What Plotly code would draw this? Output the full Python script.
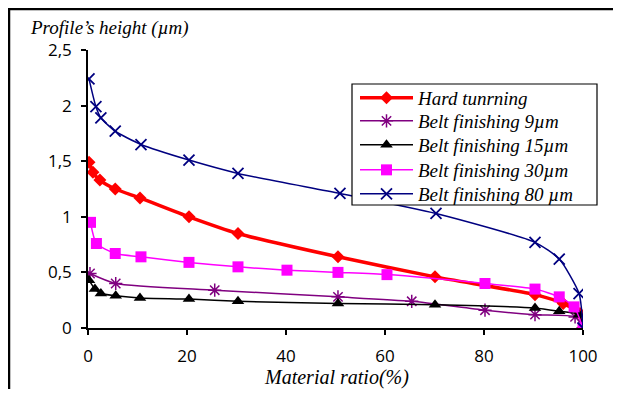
import plotly.graph_objects as go

# ---- data ----
ht_x = [0.2, 1.0, 2.4, 5.5, 10.5, 20.4, 30.3, 50.5, 70.1, 90.3, 96.0, 99.4, 100]
ht_y = [1.49, 1.40, 1.33, 1.25, 1.17, 1.00, 0.85, 0.64, 0.46, 0.30, 0.22, 0.13, 0.0]

b9_x = [0.4, 5.6, 25.6, 50.5, 65.4, 80.2, 90.3, 98.4, 100]
b9_y = [0.49, 0.40, 0.34, 0.28, 0.24, 0.16, 0.12, 0.10, 0.0]

b15_x = [0.2, 1.4, 2.6, 5.6, 10.5, 20.4, 30.3, 50.5, 70.1, 90.3, 95.2, 99.2, 100]
b15_y = [0.43, 0.35, 0.31, 0.29, 0.27, 0.26, 0.24, 0.22, 0.21, 0.18, 0.15, 0.12, 0.0]

b30_x = [0.5, 1.7, 5.5, 10.7, 20.4, 30.3, 40.2, 50.5, 60.4, 80.2, 90.3, 95.2, 98.2, 100]
b30_y = [0.95, 0.76, 0.67, 0.64, 0.59, 0.55, 0.52, 0.50, 0.48, 0.40, 0.35, 0.28, 0.19, 0.0]

b80_x = [0.2, 1.6, 2.6, 5.5, 10.7, 20.4, 30.3, 50.9, 70.3, 90.3, 95.2, 99.2, 100]
b80_y = [2.24, 1.99, 1.89, 1.77, 1.65, 1.51, 1.39, 1.21, 1.03, 0.77, 0.62, 0.31, 0.0]

names = ["Hard tunrning", "Belt finishing 9µm", "Belt finishing 15µm",
         "Belt finishing 30µm", "Belt finishing 80 µm"]

y_tickvals = [0, 0.5, 1, 1.5, 2, 2.5]
y_ticktext = ["0", "0,5", "1", "1,5", "2", "2,5"]
x_tickvals = [0, 20, 40, 60, 80, 100]

serif = "Liberation Serif"
sans = "Open Sans"

# page body has an 8px margin: figure origin sits at (8, 8) in the window
OFF = 8
L, T, PW, PH = 88 - OFF, 50 - OFF, 495, 278
W, H = 621 - 2 * OFF, 397 - 2 * OFF

def px(xp):
    return (xp - OFF - L) / PW

def py(yp):
    return (T + PH - (yp - OFF)) / PH

fig = go.Figure()

legend_rows = [98, 121, 145, 170, 194]
legend_ids = ["legend", "legend2", "legend3", "legend4", "legend5"]

def add(i, xs, ys, color, width, symbol, size, mline=0):
    fig.add_trace(go.Scatter(
        x=xs, y=ys, name=names[i], mode="lines+markers", legend=legend_ids[i],
        line=dict(color=color, width=width, shape="spline", smoothing=0.6),
        marker=dict(symbol=symbol, size=size, color=color,
                    line=dict(color=color, width=mline)),
    ))

add(0, ht_x, ht_y, "#FF0000", 3.5, "diamond", 10)
add(1, b9_x, b9_y, "#800080", 1.5, "asterisk-open", 11, 1.5)
add(2, b15_x, b15_y, "#000000", 1.5, "triangle-up", 11)
add(3, b30_x, b30_y, "#FF00FF", 1.5, "square", 11)
add(4, b80_x, b80_y, "#000080", 1.5, "x-thin-open", 11, 1.8)

legends = {}
for lid, yr in zip(legend_ids, legend_rows):
    legends[lid] = dict(
        x=px(355), y=py(yr), xanchor="left", yanchor="middle",
        bgcolor="rgba(0,0,0,0)", borderwidth=0,
        font=dict(family=serif, size=19, color="black", style="italic"),
        itemwidth=53,
    )

fig.update_layout(
    width=W, height=H,
    margin=dict(l=L, r=W - L - PW, t=T, b=H - T - PH),
    paper_bgcolor="white", plot_bgcolor="white",
    showlegend=True,
    **legends,
    xaxis=dict(
        range=[0, 100], tickvals=x_tickvals, showgrid=False, zeroline=False,
        showline=True, linecolor="black", linewidth=1.5,
        ticks="outside", ticklen=5, tickcolor="black", tickwidth=1.5,
        ticklabelstandoff=7,
        tickfont=dict(family=sans, size=17, color="black"),
    ),
    yaxis=dict(
        range=[0, 2.5], tickvals=y_tickvals, ticktext=y_ticktext,
        showgrid=False, zeroline=False,
        showline=True, linecolor="black", linewidth=1.5,
        ticks="outside", ticklen=5, tickcolor="black", tickwidth=1.5,
        ticklabelstandoff=6,
        tickfont=dict(family=sans, size=17, color="black"),
    ),
    annotations=[
        dict(text="Profile’s height (µm)", xref="paper", yref="paper",
             x=px(28), y=py(28), xanchor="left", yanchor="middle",
             showarrow=False, font=dict(family=serif, size=19, color="black", style="italic")),
        dict(text="Material ratio(%)", xref="paper", yref="paper",
             x=px(336), y=py(377), xanchor="center", yanchor="middle",
             showarrow=False, font=dict(family=serif, size=20, color="black", style="italic")),
    ],
    shapes=[
        dict(type="rect", xref="paper", yref="paper", layer="above",
             x0=px(352), x1=px(597), y0=py(84), y1=py(205),
             fillcolor="white", line=dict(color="black", width=1.2)),
        dict(type="line", xref="paper", yref="paper",
             x0=px(9), x1=px(9), y0=py(8), y1=py(400),
             line=dict(color="black", width=2.5)),
        dict(type="line", xref="paper", yref="paper",
             x0=px(8), x1=px(625), y0=py(9), y1=py(9),
             line=dict(color="black", width=2.5)),
    ],
)

fig.write_html("out.html")
